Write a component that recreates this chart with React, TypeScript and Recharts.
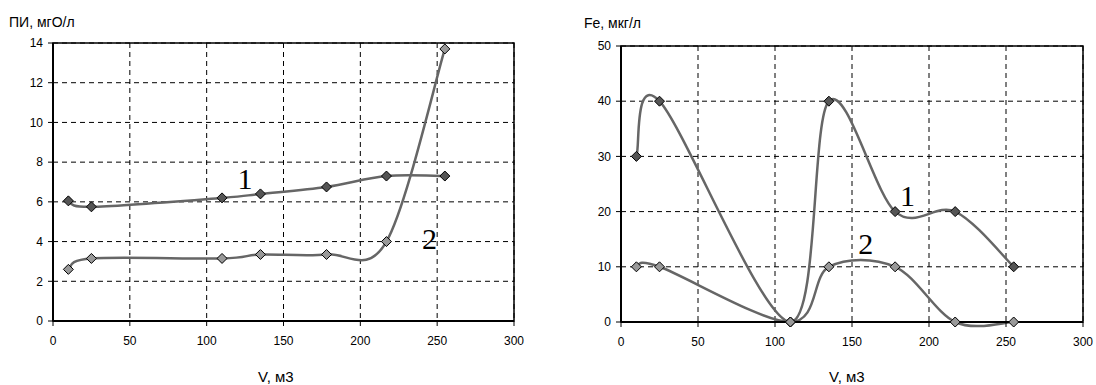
import {
  LineChart,
  Line,
  XAxis,
  YAxis,
  CartesianGrid,
  ReferenceArea,
  ReferenceDot,
  Label,
} from "recharts";

// sampled volumes, m3
const volumes = [10, 25, 110, 135, 178, 217, 255];

// ПИ, мгО/л
const pi1 = [6.05, 5.75, 6.2, 6.4, 6.75, 7.3, 7.3];
const pi2 = [2.6, 3.15, 3.15, 3.35, 3.35, 4.0, 13.7];

// Fe, мкг/л
const fe1 = [30, 40, 0, 40, 20, 20, 10];
const fe2 = [10, 10, 0, 10, 10, 0, 0];

const xTicks = [0, 50, 100, 150, 200, 250, 300];
const piTicks = [0, 2, 4, 6, 8, 10, 12, 14];
const feTicks = [0, 10, 20, 30, 40, 50];

const piData = volumes.map((v, i) => ({ v, s1: pi1[i], s2: pi2[i] }));
const feData = volumes.map((v, i) => ({ v, s1: fe1[i], s2: fe2[i] }));

const SANS = "'Liberation Sans', Arial, sans-serif";
const SERIF = "'Liberation Serif', 'Times New Roman', serif";
const LINE = "#666";
const DARK = "#555";
const LIGHT = "#999";

// Excel-like smoothed line (Catmull-Rom through every point)
function excelCurve(context: any) {
  let pts: [number, number][] = [];
  return {
    areaStart() {},
    areaEnd() {},
    lineStart() {
      pts = [];
    },
    point(x: number, y: number) {
      pts.push([+x, +y]);
    },
    lineEnd() {
      const n = pts.length;
      if (!n) return;
      context.moveTo(pts[0][0], pts[0][1]);
      for (let i = 0; i < n - 1; i++) {
        const p0 = pts[Math.max(0, i - 1)];
        const p1 = pts[i];
        const p2 = pts[i + 1];
        const p3 = pts[Math.min(n - 1, i + 2)];
        context.bezierCurveTo(
          p1[0] + (p2[0] - p0[0]) / 6,
          p1[1] + (p2[1] - p0[1]) / 6,
          p2[0] - (p3[0] - p1[0]) / 6,
          p2[1] - (p3[1] - p1[1]) / 6,
          p2[0],
          p2[1]
        );
      }
    },
  };
}

const diamond = (fill: string) => (props: any) => {
  const { cx, cy, index } = props;
  if (cx == null || cy == null) return <g key={index} />;
  const r = 5;
  return (
    <path
      key={index}
      d={`M${cx},${cy - r}L${cx + r},${cy}L${cx},${cy + r}L${cx - r},${cy}Z`}
      fill={fill}
      stroke="#000"
      strokeWidth={1}
    />
  );
};

const tickStyle = { fontFamily: SANS, fontSize: 12, fill: "#000" };

function Panel({
  data,
  yMax,
  yTicks,
  margin,
  labels,
}: {
  data: { v: number; s1: number; s2: number }[];
  yMax: number;
  yTicks: number[];
  margin: { top: number; right: number; bottom: number; left: number };
  labels: { x: number; y: number; text: string }[];
}) {
  return (
    <LineChart width={548} height={385} data={data} margin={margin}>
      <CartesianGrid stroke="#000" strokeDasharray="5 4" strokeWidth={1} />
      <ReferenceArea
        x1={0}
        x2={300}
        y1={0}
        y2={yMax}
        fill="none"
        stroke="#000"
        strokeWidth={1.5}
      />
      <XAxis
        dataKey="v"
        type="number"
        domain={[0, 300]}
        ticks={xTicks}
        height={30}
        tickSize={5}
        tickMargin={10}
        tick={tickStyle}
        axisLine={{ stroke: "#000", strokeWidth: 2 }}
        tickLine={{ stroke: "#000" }}
      />
      <YAxis
        type="number"
        domain={[0, yMax]}
        ticks={yTicks}
        width={40}
        tickSize={5}
        tickMargin={5}
        tick={tickStyle}
        axisLine={{ stroke: "#000", strokeWidth: 2 }}
        tickLine={{ stroke: "#000" }}
      />
      <Line
        dataKey="s1"
        type={excelCurve as any}
        stroke={LINE}
        strokeWidth={2.5}
        dot={diamond(DARK)}
        activeDot={false}
        isAnimationActive={false}
      />
      <Line
        dataKey="s2"
        type={excelCurve as any}
        stroke={LINE}
        strokeWidth={2.5}
        dot={diamond(LIGHT)}
        activeDot={false}
        isAnimationActive={false}
      />
      {labels.map((l) => (
        <ReferenceDot key={l.text} x={l.x} y={l.y} r={0} fill="none" stroke="none">
          <Label
            value={l.text}
            position="center"
            fill="#000"
            fontFamily={SERIF}
            fontSize={30}
          />
        </ReferenceDot>
      ))}
    </LineChart>
  );
}

const textStyle = {
  position: "absolute" as const,
  fontFamily: SANS,
  color: "#000",
  lineHeight: 1,
  whiteSpace: "nowrap" as const,
};

export default function App() {
  return (
    <div
      style={{
        position: "absolute",
        left: 0,
        top: 0,
        width: 1096,
        height: 385,
        background: "#fff",
      }}
    >
      <div style={{ position: "absolute", left: 0, top: 0 }}>
        <Panel
          data={piData}
          yMax={14}
          yTicks={piTicks}
          margin={{ top: 43, right: 34, bottom: 34, left: 13 }}
          labels={[
            { x: 125, y: 7.2, text: "1" },
            { x: 245, y: 4.15, text: "2" },
          ]}
        />
      </div>
      <div style={{ position: "absolute", left: 548, top: 0 }}>
        <Panel
          data={feData}
          yMax={50}
          yTicks={feTicks}
          margin={{ top: 46, right: 13, bottom: 33, left: 33 }}
          labels={[
            { x: 186, y: 23, text: "1" },
            { x: 159, y: 14.3, text: "2" },
          ]}
        />
      </div>
      <div style={{ ...textStyle, left: 9, top: 15, fontSize: 14 }}>ПИ, мгО/л</div>
      <div style={{ ...textStyle, left: 584, top: 16, fontSize: 14 }}>Fe, мкг/л</div>
      <div style={{ ...textStyle, left: 258, top: 369, fontSize: 15 }}>V, м3</div>
      <div style={{ ...textStyle, left: 829, top: 369, fontSize: 15 }}>V, м3</div>
    </div>
  );
}
